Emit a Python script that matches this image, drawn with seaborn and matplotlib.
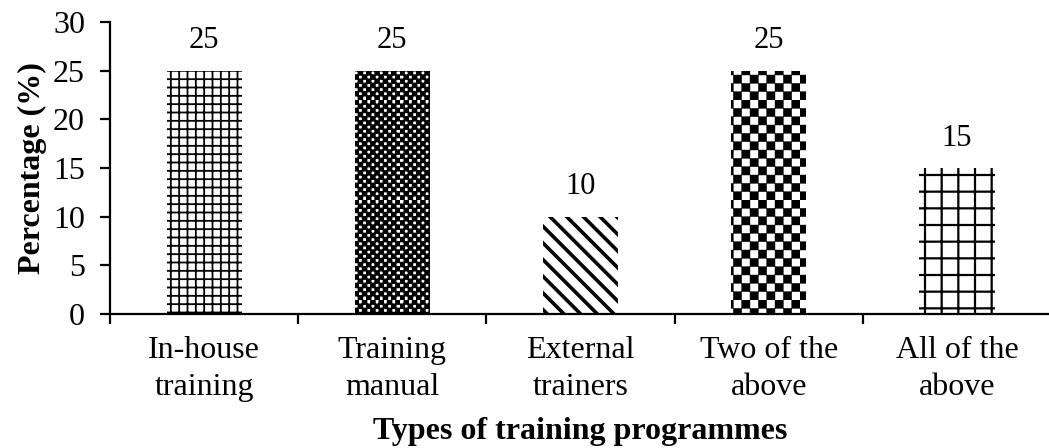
import numpy as np
import matplotlib
matplotlib.use("Agg")
import matplotlib.pyplot as plt
import matplotlib.hatch as mhatch
from matplotlib.path import Path
from matplotlib.ticker import FixedLocator
import seaborn as sns

categories = ["In-house\ntraining", "Training\nmanual", "External\ntrainers",
              "Two of the\nabove", "All of the\nabove"]
percentages = [25, 25, 10, 25, 15]
hatches = ["++", "cc", "\\\\", "c", "+"]
hatch_widths = [1.3, 1.0, 2.6, 0.3, 1.6]


class CheckerHatch(mhatch.HatchPatternBase):
    """Filled checkerboard squares, selected with the 'c' hatch character."""
    filled = True

    def __init__(self, hatch, density):
        self.n = hatch.count("c") * density * 2
        self.num_vertices = (self.n * self.n // 2) * 5

    def set_vertices_and_codes(self, vertices, codes):
        s = 1.0 / self.n
        k = 0
        for i in range(self.n):
            for j in range(self.n):
                if (i + j) % 2 == 0:
                    x0, y0 = i * s, j * s
                    vertices[k:k + 5] = [(x0, y0), (x0 + s, y0), (x0 + s, y0 + s),
                                         (x0, y0 + s), (x0, y0)]
                    codes[k] = Path.MOVETO
                    codes[k + 1:k + 4] = Path.LINETO
                    codes[k + 4] = Path.CLOSEPOLY
                    k += 5


mhatch._hatch_types.append(CheckerHatch)

sns.set_style("ticks")
plt.rcParams["font.family"] = ["Liberation Serif", "DejaVu Serif"]
plt.rcParams["hatch.color"] = "black"
plt.rcParams["axes.linewidth"] = 1.6
for key in ["text.color", "axes.labelcolor", "xtick.color", "ytick.color",
            "axes.edgecolor"]:
    plt.rcParams[key] = "black"

FS = 23

fig = plt.figure(figsize=(10.49, 4.48), dpi=100)
ax = fig.add_axes([0.1049, 0.299, 0.8951 + 0.002, 0.652])

sns.barplot(x=categories, y=percentages, color="white", width=0.4,
            edgecolor="black", linewidth=0, saturation=1, ax=ax)

for patch, h, lw in zip(ax.patches, hatches, hatch_widths):
    patch.set_hatch(h)
    patch.set_facecolor("white")
    if hasattr(patch, "set_hatch_linewidth"):
        patch.set_hatch_linewidth(lw)

ax.bar_label(ax.containers[0], fmt="%g", padding=11, fontsize=FS - 1)

ax.set_xlim(-0.5, len(categories) - 0.5)
ax.set_ylim(0, 30)
ax.set_yticks(range(0, 31, 5))
ax.tick_params(axis="y", labelsize=FS, length=7, width=1.6, pad=11, direction="out")
ax.xaxis.set_minor_locator(FixedLocator(np.arange(-0.5, len(categories), 1.0)))
ax.tick_params(axis="x", which="major", length=0, labelsize=FS, pad=16)
ax.tick_params(axis="x", which="minor", length=7, width=1.6, direction="out")
for lab in ax.get_xticklabels():
    lab.set_linespacing(1.35)

sns.despine(ax=ax)

ax.set_ylabel("Percentage (%)", fontsize=FS, fontweight="bold", labelpad=4)
ax.set_xlabel("Types of training programmes", fontsize=FS, fontweight="bold", labelpad=11)

fig.savefig("out.png", dpi=100)
